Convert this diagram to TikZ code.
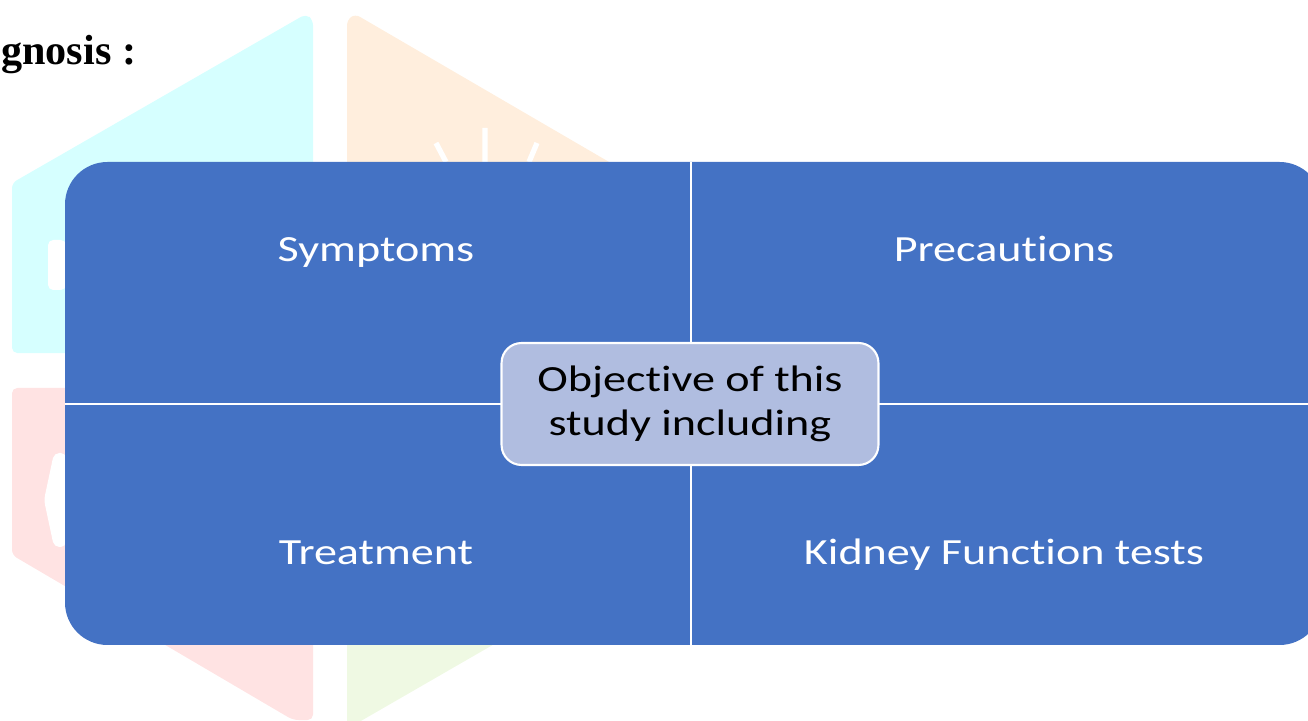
\documentclass[tikz,border=0pt]{standalone}
\usepackage{fontspec}
\setmainfont{Liberation Serif}
\newfontfamily\calib[FakeStretch=1.25,Ligatures=NoCommon]{Carlito}
\definecolor{mblue}{HTML}{4472C4}
\definecolor{cbox}{HTML}{B0BDE0}
\definecolor{wcyan}{RGB}{214,255,255}
\definecolor{worange}{RGB}{255,238,221}
\definecolor{wred}{RGB}{255,227,227}
\definecolor{wgreen}{RGB}{239,249,227}
\begin{document}
\begin{tikzpicture}[x=0.02cm,y=0.02cm,
	quad/.style={text=white,font=\calib\fontsize{21}{26}\selectfont,anchor=base},
	centerbox/.style={draw=white,line width=1.2pt,fill=cbox,rounded corners=0.4cm,
		minimum width=7.54cm,minimum height=2.44cm,align=center,
		font=\calib\fontsize{21}{25}\selectfont}]
	\useasboundingbox (0,0) rectangle (1308,720);
	% faint logo behind
	\fill[wcyan,rounded corners=3pt] (12,367) -- (12,537) -- (306,706) -- (313,700) -- (313,366) -- cycle;
	\fill[white,rounded corners=3pt] (48,430) -- (48,480) -- (66,480) -- (66,430) -- cycle;
	\fill[wred,rounded corners=3pt] (12,165) -- (12,332) -- (313,332) -- (313,0) -- (293,0) -- cycle;
	\fill[white,rounded corners=3pt] (54,173) -- (44,220) -- (54,267) -- (66,267) -- (66,173) -- cycle;
	\fill[worange,rounded corners=3pt] (347,380) -- (347,700) -- (355,706) -- (640,540) -- (640,380) -- cycle;
	\draw[white,line width=3pt] (485,592) -- (485,558) (436,577) -- (446,558) (537,577) -- (529,558);
	\fill[wgreen] (347,-9) -- (640,160) -- (640,330) -- (347,330) -- cycle;
	% the four parts
	\fill[mblue,rounded corners=0.85cm] (65,75) rectangle (1322,558);
	\draw[white,line width=1.5pt] (691,75) -- (691,558) (65,316) -- (1322,316);
	\node[quad] (sympt) at (376,458) {Symptoms};
	\node[quad] (precaut) at (1004,458) {Precautions};
	\node[quad] (treat) at (376,155) {Treatment};
	\node[quad] (kft) at (1004,155) {Kidney Function tests};
	\node[centerbox] (objective) at (690,316) {Objective of this\\study including};
	\node[anchor=base west,inner xsep=0pt,font=\bfseries\fontsize{24}{29}\selectfont] (title) at (1,655) {gnosis :};
\end{tikzpicture}
\end{document}
